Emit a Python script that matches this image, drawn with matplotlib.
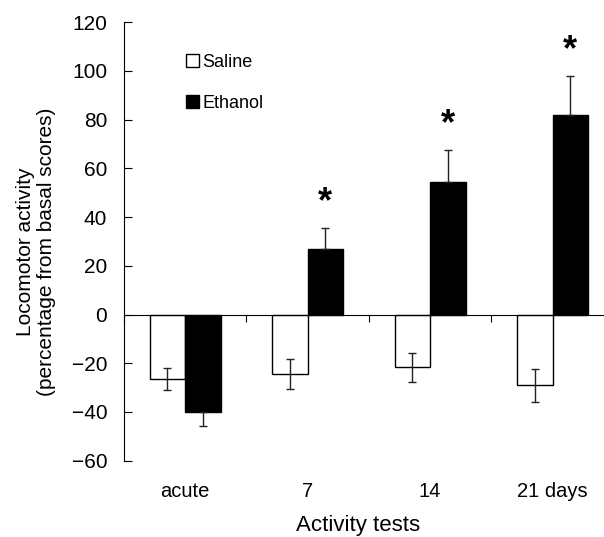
import numpy as np
import matplotlib
matplotlib.use("Agg")
import matplotlib.pyplot as plt
from matplotlib.patches import Patch

plt.rcParams['font.family'] = ['Liberation Sans', 'DejaVu Sans']

categories = ["acute", "7", "14", "21 days"]
saline = [-26.4, -24.5, -21.7, -29.0]
saline_err = [4.6, 6.2, 5.8, 6.7]
ethanol = [-40.1, 27.0, 54.6, 82.1]
ethanol_err = [5.6, 8.6, 13.0, 15.8]
signif = [False, True, True, True]

fig = plt.figure(figsize=(6.04, 5.37), dpi=100)
ax = fig.add_axes([124/604, 1 - 460.7/537, 1 - 124/604, (460.7 - 22.2)/537])

x = np.arange(len(categories))
w = 0.29

ax.bar(x - w/2, saline, w, color="white", edgecolor="black", linewidth=1, label="Saline")
ax.errorbar(x - w/2, saline, yerr=saline_err, fmt="none", ecolor="#222222",
            elinewidth=1, capsize=3, capthick=1)

ax.bar(x + w/2, ethanol, w, color="black", edgecolor="black", linewidth=1, label="Ethanol")
# ethanol error bars only point away from zero
e_low = [e if v < 0 else 0 for v, e in zip(ethanol, ethanol_err)]
e_up = [e if v >= 0 else 0 for v, e in zip(ethanol, ethanol_err)]
ax.errorbar(x + w/2, ethanol, yerr=[e_low, e_up], fmt="none", ecolor="#222222",
            elinewidth=1, capsize=3, capthick=1)

for i, s in enumerate(signif):
    if s:
        ax.text(x[i] + w/2, ethanol[i] + ethanol_err[i] + 10.5, "*", ha="center",
                va="center", fontsize=26, fontweight="bold")

ax.set_ylim(-60, 120)
ax.set_xlim(-0.5, 3.42)
ax.set_yticks(range(-60, 121, 20))
ax.set_yticklabels([str(v).replace("-", "\u2212") for v in range(-60, 121, 20)])
ax.tick_params(axis="y", direction="in", length=6, labelsize=15, pad=12)

ax.spines["bottom"].set_position(("data", 0))
ax.spines["top"].set_visible(False)
ax.spines["right"].set_visible(False)
ax.set_xticks([-0.5, 0.5, 1.5, 2.5])
ax.set_xticklabels([])
ax.tick_params(axis="x", direction="out", length=5)

for i, c in enumerate(categories):
    ax.text(x[i], -0.07, c, transform=ax.get_xaxis_transform(), ha="center",
            va="center", fontsize=14.5)

fig.text(358/604, 1 - 526/537, "Activity tests", ha="center", va="center", fontsize=16)
fig.text(36/604, 1 - 252/537, "Locomotor activity\n(percentage from basal scores)",
         rotation=90, ha="center", va="center", fontsize=15, linespacing=1.1)

handles = [Patch(facecolor="white", edgecolor="black", label="Saline"),
           Patch(facecolor="black", edgecolor="black", label="Ethanol")]
ax.legend(handles=handles, loc="upper left", bbox_to_anchor=(0.095, 0.965), frameon=False,
          fontsize=13, handlelength=0.75, handleheight=0.75, handletextpad=0.15,
          labelspacing=1.35)

fig.savefig("out.png", dpi=100)
